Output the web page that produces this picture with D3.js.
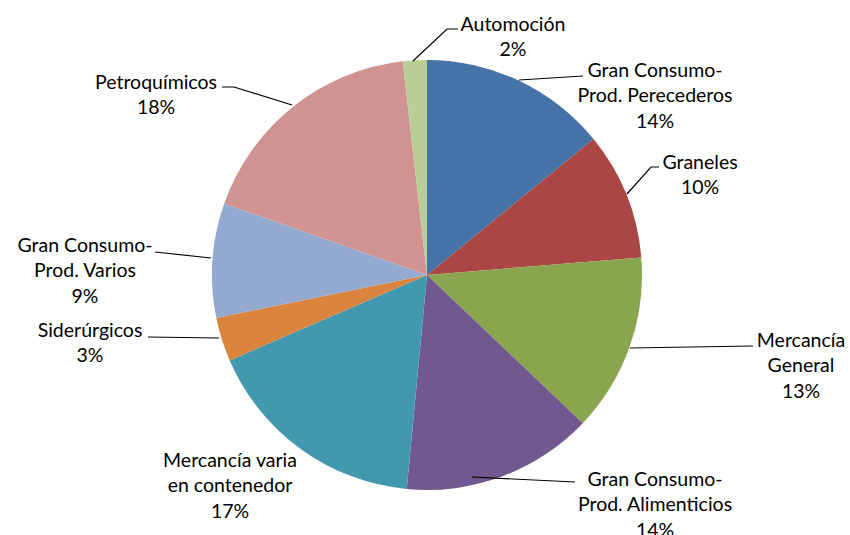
<!DOCTYPE html>
<html><head><meta charset="utf-8">
<script src="https://cdn.jsdelivr.net/npm/d3@7"></script>
<style>body{margin:0;background:#fff}svg{display:block}</style>
</head><body>
<script>
const categories = [
  "Gran Consumo-|Prod. Perecederos",
  "Graneles",
  "Mercancía|General",
  "Gran Consumo-|Prod. Alimenticios",
  "Mercancía varia|en contenedor",
  "Siderúrgicos",
  "Gran Consumo-|Prod. Varios",
  "Petroquímicos",
  "Automoción"
];
const values = [14.1, 9.6, 13.4, 14.4, 17.0, 3.3, 8.6, 17.8, 1.8];
const colors = ["#4572A7","#AA4643","#89A54E","#71588F","#4198AF","#DB843D","#93A9CF","#D19392","#B9CD96"];

// label layout: text centre x, first line y, leader polyline
const labelLayout = [
  {x:655, y:70,  line:[[519,80],[583,76]]},
  {x:700, y:162, line:[[627,194],[651,167],[659,167]]},
  {x:801, y:340, line:[[630,348],[753,346]]},
  {x:655, y:479, line:[[472,477],[575,482]]},
  {x:230, y:460, line:null},
  {x:90,  y:330, line:[[219,338],[148,337]]},
  {x:85,  y:245, line:[[211,258],[155,252]]},
  {x:156, y:82,  line:[[292,105],[234,87],[222,87]]},
  {x:513, y:24,  line:[[413,61],[447,29],[458,29]]}
];

const W=850,H=535, cx=427, cy=275, R=215;
const svg=d3.select("body").append("svg").attr("width",W).attr("height",H);
const total=d3.sum(values);
const pie=d3.pie().sort(null).value(d=>d)(values);
const arc=d3.arc().innerRadius(0).outerRadius(R);
const g=svg.append("g").attr("transform",`translate(${cx},${cy})`);
g.selectAll("path").data(pie).join("path")
  .attr("d",arc).attr("fill",(d,i)=>colors[i]);

const lineGen=d3.line();
labelLayout.forEach((L,i)=>{
  if(L.line) svg.append("path").attr("d",lineGen(L.line)).attr("fill","none").attr("stroke","#000").attr("stroke-width",1.2);
});
const fmt=d3.format(".0%");
categories.forEach((c,i)=>{
  const L=labelLayout[i];
  const lines=c.split("|").concat([fmt(values[i]/total)]);
  const t=svg.append("text").attr("text-anchor","middle")
    .attr("font-family","Lato, 'Noto Sans', sans-serif").attr("font-size",19.5).attr("fill","#000");
  lines.forEach((s,k)=>{
    t.append("tspan").attr("x",L.x).attr("y",L.y+k*25.5).attr("dy","0.35em").text(s);
  });
});
</script>
</body></html>
